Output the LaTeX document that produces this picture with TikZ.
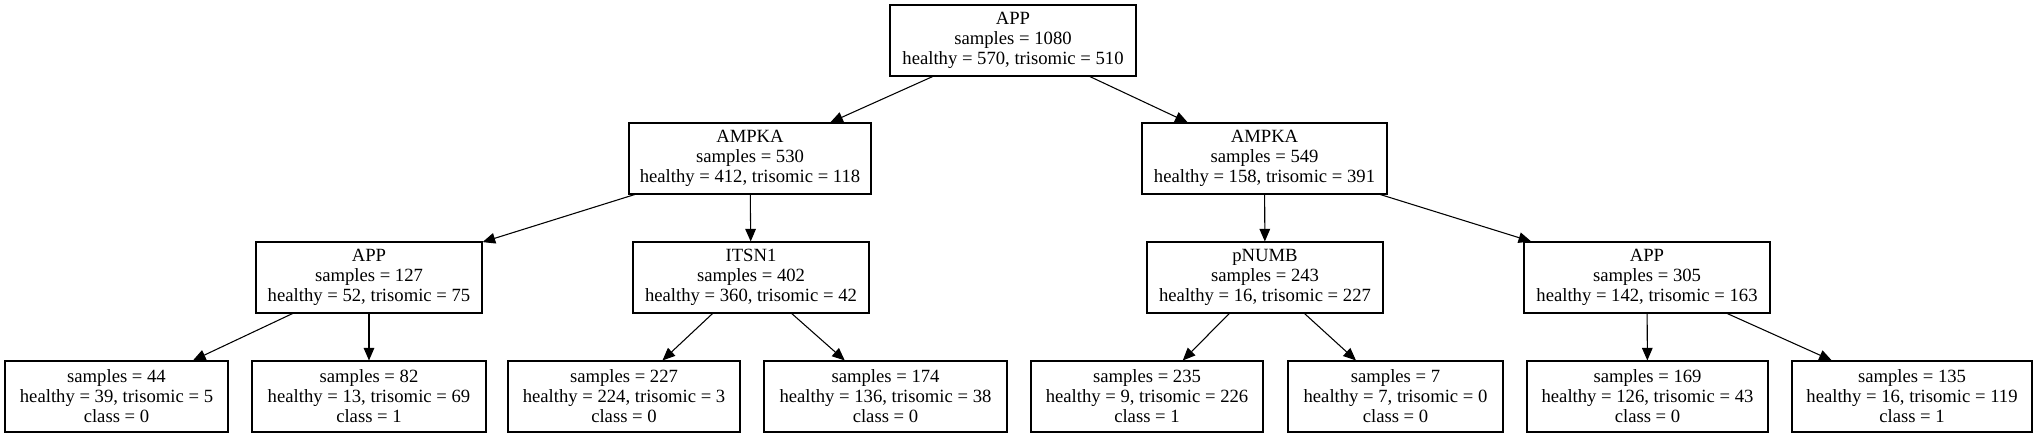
\documentclass[tikz,border=0pt]{standalone}
\usepackage{fontspec}
\setmainfont{Liberation Serif}
\usetikzlibrary{arrows.meta}
\tikzstyle{split} = [rectangle, draw=black, line width=0.8pt, align=center, minimum height=53.25pt, inner xsep=2pt, font=\fontsize{14}{15}\selectfont]
\tikzstyle{leaf} = [split]
\tikzstyle{arrow} = [line width=0.8pt, -{Triangle[length=9.5pt,width=8pt]}]

\begin{document}
\begin{tikzpicture}[x=0.75pt, y=-0.75pt]
	\useasboundingbox (0,0) rectangle (2039,437);

	% splits
	\node (root) [split, minimum width=184.5pt] at (1013,40.5) {APP\\samples = 1080\\healthy = 570, trisomic = 510};
	\node (ampkaL) [split, minimum width=181.5pt] at (750,158.5) {AMPKA\\samples = 530\\healthy = 412, trisomic = 118};
	\node (ampkaR) [split, minimum width=183.75pt] at (1264.5,158.5) {AMPKA\\samples = 549\\healthy = 158, trisomic = 391};
	\node (appL) [split, minimum width=169.5pt] at (369,277.5) {APP\\samples = 127\\healthy = 52, trisomic = 75};
	\node (itsn) [split, minimum width=177pt] at (751,277.5) {ITSN1\\samples = 402\\healthy = 360, trisomic = 42};
	\node (pnumb) [split, minimum width=177pt] at (1265,277.5) {pNUMB\\samples = 243\\healthy = 16, trisomic = 227};
	\node (appR) [split, minimum width=184.5pt] at (1647,277.5) {APP\\samples = 305\\healthy = 142, trisomic = 163};

	% leaves
	\node (leafA) [leaf, minimum width=167.25pt] at (116.5,396.5) {samples = 44\\healthy = 39, trisomic = 5\\class = 0};
	\node (leafB) [leaf, minimum width=175.5pt] at (369,396.5) {samples = 82\\healthy = 13, trisomic = 69\\class = 1};
	\node (leafC) [leaf, minimum width=174pt] at (624,396.5) {samples = 227\\healthy = 224, trisomic = 3\\class = 0};
	\node (leafD) [leaf, minimum width=182.25pt] at (885.5,396.5) {samples = 174\\healthy = 136, trisomic = 38\\class = 0};
	\node (leafE) [leaf, minimum width=174pt] at (1147,396.5) {samples = 235\\healthy = 9, trisomic = 226\\class = 1};
	\node (leafF) [leaf, minimum width=161.25pt] at (1395.5,396.5) {samples = 7\\healthy = 7, trisomic = 0\\class = 0};
	\node (leafG) [leaf, minimum width=180.75pt] at (1647.5,396.5) {samples = 169\\healthy = 126, trisomic = 43\\class = 0};
	\node (leafH) [leaf, minimum width=180pt] at (1912,396.5) {samples = 135\\healthy = 16, trisomic = 119\\class = 1};

	\draw [arrow] (root) -- (ampkaL);
	\draw [arrow] (root) -- (ampkaR);
	\draw [arrow] (ampkaL) -- (appL);
	\draw [arrow] (ampkaL) -- (itsn);
	\draw [arrow] (ampkaR) -- (pnumb);
	\draw [arrow] (ampkaR) -- (appR);
	\draw [arrow] (appL) -- (leafA);
	\draw [arrow] (appL) -- (leafB);
	\draw [arrow] (itsn) -- (leafC);
	\draw [arrow] (itsn) -- (leafD);
	\draw [arrow] (pnumb) -- (leafE);
	\draw [arrow] (pnumb) -- (leafF);
	\draw [arrow] (appR) -- (leafG);
	\draw [arrow] (appR) -- (leafH);

\end{tikzpicture}
\end{document}
